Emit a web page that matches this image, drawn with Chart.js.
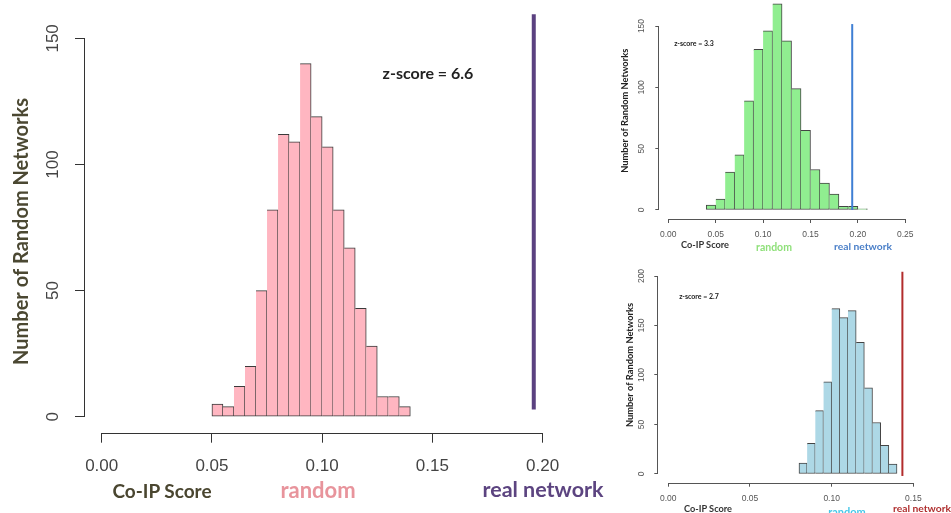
<!DOCTYPE html>
<html>
<head>
<meta charset="utf-8">
<title>Co-IP score histograms</title>
<script src="https://cdn.jsdelivr.net/npm/chart.js@4.4.1/dist/chart.umd.min.js"></script>
<style>
  html, body { margin: 0; padding: 0; background: #fff; width: 951px; height: 513px; overflow: hidden; position: relative; }
  canvas { position: absolute; }
  .lbl { position: absolute; transform: translate(-50%, -50%); white-space: nowrap; font-family: Lato, sans-serif; font-weight: bold; line-height: 1; }
</style>
</head>
<body>
<canvas id="mainChart" width="600" height="480" style="left:0;top:0"></canvas>
<canvas id="greenChart" width="351" height="258" style="left:600px;top:0"></canvas>
<canvas id="blueChart" width="351" height="267" style="left:600px;top:246px"></canvas>

<!-- big panel labels -->
<div class="lbl" style="left:428px;top:73px;font-size:16px;color:#222">z-score = 6.6</div>
<div class="lbl" style="left:162px;top:490px;font-size:19px;color:#4a4630">Co-IP Score</div>
<div class="lbl" style="left:318px;top:490px;font-size:22px;color:#e8949c">random</div>
<div class="lbl" style="left:543px;top:490px;font-size:21.5px;color:#5c4480">real network</div>

<!-- top right panel labels -->
<div class="lbl" style="left:694px;top:43px;font-size:7px;color:#222">z-score = 3.3</div>
<div class="lbl" style="left:705px;top:245px;font-size:9.2px;color:#333">Co-IP Score</div>
<div class="lbl" style="left:774px;top:247px;font-size:10.5px;color:#8fe07a">random</div>
<div class="lbl" style="left:863px;top:246px;font-size:10.3px;color:#4a7fc8">real network</div>

<!-- bottom right panel labels -->
<div class="lbl" style="left:699px;top:296px;font-size:7px;color:#222">z-score = 2.7</div>
<div class="lbl" style="left:708px;top:509px;font-size:9.2px;color:#333">Co-IP Score</div>
<div class="lbl" style="left:847px;top:511px;font-size:11px;color:#48c8e8">random</div>
<div class="lbl" style="left:922px;top:508px;font-size:10.3px;color:#b03030">real network</div>

<script>
// ---- big pink histogram (bins 0.005 wide, x = bin centre) ----
const mainBins = [0.0525, 0.0575, 0.0625, 0.0675, 0.0725, 0.0775, 0.0825, 0.0875, 0.0925,
                  0.0975, 0.1025, 0.1075, 0.1125, 0.1175, 0.1225, 0.1275, 0.1325, 0.1375];
const mainCounts = [5, 4, 12, 20, 50, 82, 112, 109, 140, 119, 107, 82, 67, 43, 28, 8, 8, 4];
const mainTicksX = [0, 0.05, 0.1, 0.15, 0.2];
const mainTicksY = [0, 50, 100, 150];
const mainReal = 0.196;
const mainRealSpan = [2.9, 159.6];

// ---- green histogram (bins 0.01 wide) ----
const greenBins = [0.045, 0.055, 0.065, 0.075, 0.085, 0.095, 0.105, 0.115, 0.125,
                   0.135, 0.145, 0.155, 0.165, 0.175, 0.185, 0.195, 0.205];
const greenCounts = [4, 9, 31, 45, 89, 131, 146, 168, 138, 99, 65, 33, 22, 13, 3, 3, 1];
const greenTicksX = [0, 0.05, 0.1, 0.15, 0.2, 0.25];
const greenTicksY = [0, 50, 100, 150];
const greenReal = 0.194;
const greenRealSpan = [0, 151.6];

// ---- blue histogram (bins 0.005 wide) ----
const blueBins = [0.0825, 0.0875, 0.0925, 0.0975, 0.1025, 0.1075,
                  0.1125, 0.1175, 0.1225, 0.1275, 0.1325, 0.1375];
const blueCounts = [11, 31, 64, 93, 167, 158, 165, 133, 87, 52, 29, 10];
const blueTicksX = [0, 0.05, 0.1, 0.15];
const blueTicksY = [0, 50, 100, 150, 200];
const blueReal = 0.1433;
const blueRealSpan = [-2, 204.3];

const yTitle = 'Number of Random Networks';

// R style detached axis lines, running from first to last tick only
const rAxes = {
  id: 'rAxes',
  afterDraw(chart, args, opts) {
    const {ctx, chartArea, scales} = chart;
    const xs = scales.x, ys = scales.y;
    const xl = Math.round(chartArea.left) - 0.5;
    const yb = Math.round(chartArea.bottom) + 0.5;
    ctx.save();
    ctx.strokeStyle = opts.color;
    ctx.lineWidth = 1;
    ctx.beginPath();
    ctx.moveTo(xl, ys.getPixelForValue(ys.ticks[0].value));
    ctx.lineTo(xl, ys.getPixelForValue(ys.ticks[ys.ticks.length - 1].value));
    ctx.moveTo(xs.getPixelForValue(xs.ticks[0].value), yb);
    ctx.lineTo(xs.getPixelForValue(xs.ticks[xs.ticks.length - 1].value), yb);
    ctx.stroke();
    ctx.restore();
  }
};

function makeHistogram(id, d, g) {
  const ctx = document.getElementById(id).getContext('2d');
  return new Chart(ctx, {
    type: 'bar',
    data: {
      datasets: [{
        type: 'line',
        order: 0,
        data: [{x: d.real, y: d.span[0]}, {x: d.real, y: d.span[1]}],
        borderColor: g.lineColor,
        borderWidth: g.lineWidth,
        borderCapStyle: 'butt',
        pointRadius: 0,
        clip: false
      }, {
        order: 1,
        data: d.bins.map((b, i) => ({x: b, y: d.counts[i]})),
        backgroundColor: g.fill,
        borderColor: g.edge,
        borderSkipped: false,
        borderWidth: c => ({top: 1, right: 1, bottom: 1, left: c.dataIndex === 0 ? 1 : 0}),
        barPercentage: 1,
        categoryPercentage: 1
      }]
    },
    options: {
      responsive: false,
      animation: false,
      events: [],
      layout: {padding: g.pad},
      plugins: {legend: {display: false}, tooltip: {enabled: false}, rAxes: {color: g.axis}},
      scales: {
        x: {
          type: 'linear',
          offset: false,
          min: g.xMin, max: g.xMax,
          afterBuildTicks: s => { s.ticks = d.ticksX.map(v => ({value: v})); },
          afterFit: s => { s.height = g.xAxisH; s.paddingLeft = 0; s.paddingRight = 0; },
          grid: {offset: false, drawOnChartArea: false, tickLength: g.tl, color: g.axis},
          border: {display: false},
          ticks: {
            autoSkip: false, maxRotation: 0, padding: g.xPad, color: g.tickColor,
            font: {family: 'Liberation Sans', size: g.tickSize},
            callback: v => v.toFixed(2)
          }
        },
        y: {
          min: g.yMin, max: g.yMax,
          afterBuildTicks: s => { s.ticks = d.ticksY.map(v => ({value: v})); },
          afterFit: s => { s.width = g.yAxisW; s.paddingTop = 0; s.paddingBottom = 0; },
          grid: {drawOnChartArea: false, tickLength: g.tl, color: g.axis},
          border: {display: false},
          ticks: {
            autoSkip: false, minRotation: 90, maxRotation: 90, crossAlign: 'center',
            padding: g.yPad, color: g.tickColor,
            font: {family: 'Liberation Sans', size: g.tickSize},
            callback: v => String(v)
          },
          title: {
            display: true, text: yTitle, color: g.titleColor,
            font: {family: 'Lato', weight: 'bold', size: g.titleSize},
            padding: {top: g.titlePad, bottom: 0}
          }
        }
      }
    },
    plugins: [rAxes]
  });
}

function renderAll() {
  makeHistogram('mainChart',
    {bins: mainBins, counts: mainCounts, ticksX: mainTicksX, ticksY: mainTicksY, real: mainReal, span: mainRealSpan},
    {pad: {top: 30.3, right: 40, bottom: 0, left: 0}, xMin: -0.00758, xMax: 0.2079, yMin: -6.34, yMax: 153.2,
     xAxisH: 47.3, yAxisW: 85, tl: 10, xPad: 13, yPad: 7.8, tickSize: 17, tickColor: '#444', axis: '#333',
     fill: '#ffb6c1', edge: '#3a3a3a', lineColor: '#5b4180', lineWidth: 4,
     titleColor: '#4b4832', titleSize: 20, titlePad: 9.7});

  makeHistogram('greenChart',
    {bins: greenBins, counts: greenCounts, ticksX: greenTicksX, ticksY: greenTicksY, real: greenReal, span: greenRealSpan},
    {pad: {top: 2.6, right: 36.7, bottom: 0, left: 0}, xMin: -0.0095, xMax: 0.2595, yMin: -7.34, yMax: 169.1,
     xAxisH: 39, yAxisW: 59.3, tl: 4, xPad: 6.5, yPad: 6.5, tickSize: 8.5, tickColor: '#555', axis: '#555',
     fill: '#90ee90', edge: '#444', lineColor: '#3f7fd4', lineWidth: 2,
     titleColor: '#222', titleSize: 9.3, titlePad: 19.4});

  makeHistogram('blueChart',
    {bins: blueBins, counts: blueCounts, ticksX: blueTicksX, ticksY: blueTicksY, real: blueReal, span: blueRealSpan},
    {pad: {top: 1.3, right: 27.7, bottom: 0, left: 0}, xMin: -0.00612, xMax: 0.1561, yMin: -8.8, yMax: 229,
     xAxisH: 30.3, yAxisW: 58.3, tl: 4, xPad: 6.8, yPad: 5.5, tickSize: 8.5, tickColor: '#555', axis: '#555',
     fill: '#add8e6', edge: '#444', lineColor: '#b22c2c', lineWidth: 2,
     titleColor: '#222', titleSize: 9.3, titlePad: 24.4});
}

document.addEventListener('DOMContentLoaded', renderAll);
</script>
</body>
</html>
